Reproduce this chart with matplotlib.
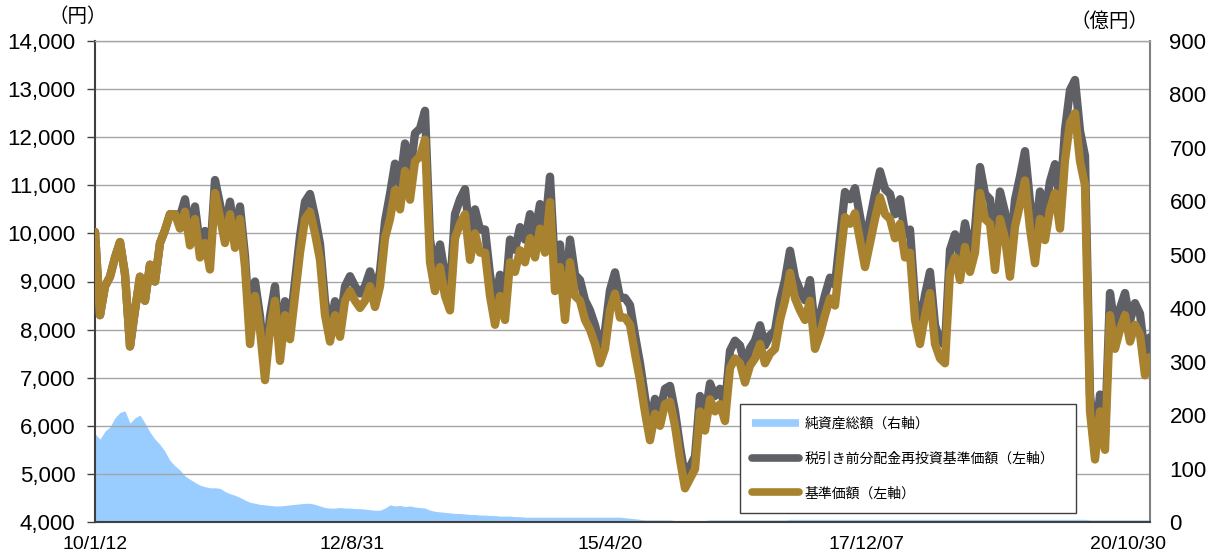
import matplotlib
matplotlib.use('Agg')
import matplotlib.pyplot as plt
import matplotlib.transforms as mtransforms
from matplotlib.lines import Line2D
from matplotlib.ticker import FuncFormatter
from matplotlib.font_manager import FontProperties
import pandas as pd

# ---------------- data ----------------
start_date = '2010-01-12'
end_date = '2020-10-30'
tick_dates = ['2010-01-12', '2012-08-31', '2015-04-20', '2017-12-07', '2020-10-30']
tick_labels = ['10/1/12', '12/8/31', '15/4/20', '17/12/07', '20/10/30']

series_labels = ['純資産総額（右軸）', '税引き前分配金再投資基準価額（左軸）', '基準価額（左軸）']

# 基準価額 (left axis, yen)
nav = [
    10030, 8300, 8900, 9100, 9500, 9820, 9150, 7650, 8400, 9100,
    8600, 9350, 9000, 9800, 10070, 10400, 10400, 10100, 10450, 9750,
    10300, 9500, 9800, 9250, 10840, 10340, 9800, 10400, 9700, 10300,
    9300, 7700, 8700, 8000, 6950, 8000, 8600, 7350, 8300, 7800,
    8700, 9600, 10300, 10450, 10000, 9450, 8300, 7750, 8300, 7850,
    8600, 8800, 8600, 8450, 8600, 8900, 8470, 8900, 9900, 10300,
    10900, 10500, 11300, 10700, 11500, 11600, 11950, 9400, 8800, 9300,
    8700, 8400, 9900, 10200, 10400, 9450, 10000, 9600, 9600, 8700,
    8100, 8700, 8200, 9400, 9200, 9650, 9400, 9900, 9500, 10100,
    9600, 10650, 8800, 9300, 8200, 9400, 8700, 8600, 8200, 8000,
    7700, 7300, 7600, 8400, 8750, 8250, 8250, 8100, 7500, 6950,
    6280, 5700, 6250, 6000, 6450, 6500, 6000, 5300, 4700, 4900,
    5100, 6300, 5900, 6550, 6300, 6450, 6100, 7200, 7400, 7300,
    6900, 7250, 7400, 7700, 7300, 7500, 7600, 8200, 8600, 9180,
    8650, 8400, 8200, 8600, 7600, 7900, 8300, 8650, 8500, 9440,
    10340, 10200, 10420, 9860, 9300, 9800, 10300, 10750, 10400, 10300,
    9900, 10200, 9500, 9600, 8200, 7700, 8300, 8760, 7700, 7400,
    7300, 9200, 9500, 9030, 9720, 9200, 9600, 10840, 10300, 10200,
    9240, 10300, 9900, 9100, 10140, 10600, 11100, 10100, 9380, 10300,
    9860, 10500, 10840, 10100, 11520, 12300, 12500, 11500, 11000, 6300,
    5300, 6300, 5500, 8300, 7600, 8000, 8300, 7750, 8100, 7900,
    7050, 7430,
]

# 税引き前分配金再投資基準価額 (left axis, yen)
nav_reinvest = [
    10030, 8300, 8900, 9100, 9500, 9820, 9150, 7650, 8400, 9100,
    8600, 9350, 9000, 9800, 10070, 10400, 10400, 10350, 10710, 9990,
    10560, 9740, 10050, 9480, 11110, 10600, 10050, 10660, 9940, 10560,
    9530, 7970, 9000, 8280, 7190, 8280, 8900, 7610, 8590, 8070,
    9000, 9940, 10660, 10820, 10350, 9780, 8590, 8020, 8590, 8120,
    8900, 9110, 8900, 8750, 8900, 9210, 8770, 9210, 10250, 10820,
    11450, 11030, 11870, 11240, 12080, 12180, 12550, 9870, 9240, 9770,
    9140, 8820, 10400, 10710, 10920, 9920, 10500, 10080, 10080, 9140,
    8510, 9140, 8610, 9870, 9660, 10130, 9870, 10400, 9980, 10610,
    10080, 11180, 9240, 9770, 8610, 9870, 9140, 9030, 8610, 8400,
    8090, 7670, 7980, 8820, 9190, 8660, 8660, 8510, 7880, 7300,
    6590, 5990, 6560, 6300, 6770, 6830, 6300, 5570, 4940, 5150,
    5360, 6620, 6200, 6880, 6620, 6770, 6410, 7560, 7770, 7670,
    7250, 7610, 7770, 8090, 7670, 7880, 7980, 8610, 9030, 9640,
    9080, 8820, 8610, 9030, 7980, 8300, 8720, 9080, 8930, 9910,
    10860, 10710, 10940, 10350, 9770, 10290, 10820, 11290, 10920, 10820,
    10400, 10710, 9980, 10080, 8610, 8090, 8720, 9200, 8090, 7770,
    7670, 9660, 9980, 9480, 10210, 9660, 10080, 11380, 10820, 10710,
    9700, 10870, 10440, 9600, 10700, 11180, 11710, 10660, 9900, 10870,
    10400, 11080, 11440, 10660, 12150, 12980, 13190, 12130, 11610, 6650,
    5590, 6650, 5800, 8760, 8020, 8440, 8760, 8180, 8550, 8330,
    7440, 7840,
]

# 純資産総額 (right axis, 億円)
net_assets = [
    165, 155, 170, 178, 195, 205, 208, 185, 195, 200,
    185, 168, 155, 145, 132, 115, 105, 97, 86, 80,
    74, 69, 66, 64, 64, 63, 57, 53, 50, 46,
    41, 37, 35, 33, 32, 31, 30, 30, 31, 32,
    33, 34, 35, 35, 33, 30, 27, 26, 26, 27,
    26, 26, 25, 25, 24, 23, 22, 22, 26, 32,
    30, 31, 29, 30, 28, 27, 26, 22, 20, 19,
    18, 17, 16, 16, 15, 14, 14, 13, 13, 12,
    12, 11, 11, 11, 10, 10, 9, 9, 9, 9,
    9, 9, 9, 9, 9, 9, 9, 9, 9, 9,
    9, 9, 9, 9, 9, 9, 8, 7, 6, 5,
    4, 4, 4, 4, 4, 4, 3, 3, 3, 3,
    3, 3, 3, 4, 4, 4, 4, 4, 4, 4,
    4, 4, 4, 4, 4, 4, 4, 4, 4, 5,
    5, 5, 5, 5, 5, 5, 5, 5, 5, 5,
    5, 5, 5, 5, 5, 5, 5, 5, 5, 5,
    5, 5, 5, 5, 5, 5, 5, 5, 5, 5,
    5, 5, 5, 5, 5, 5, 5, 5, 5, 5,
    5, 5, 5, 5, 5, 5, 5, 5, 5, 5,
    5, 5, 5, 5, 5, 5, 5, 5, 5, 4,
    4, 4, 4, 4, 4, 4, 4, 4, 4, 4,
    4, 4,
]

dates = pd.date_range(start_date, end_date, periods=len(nav))

# ---------------- style ----------------
plt.rcParams['font.family'] = ['Liberation Sans', 'Noto Sans CJK JP', 'DejaVu Sans']

C_BLUE = '#99CCFF'
C_GRAY = '#5F6065'
C_GOLD = '#A8822F'
C_GRID = '#A6A6A6'
C_AXIS = '#404040'

fig = plt.figure(figsize=(12.12, 5.6), dpi=100)
ax = fig.add_axes([95 / 1212, 1 - 522 / 560, 1055 / 1212, 481 / 560])
ax2 = ax.twinx()
ax.set_zorder(ax2.get_zorder() + 1)
ax.patch.set_visible(False)

# net assets area (right axis)
ax2.fill_between(dates, 0, net_assets, color=C_BLUE, linewidth=0)
ax2.set_ylim(0, 900)
ax2.set_yticks(range(0, 901, 100))
ax2.tick_params(axis='y', length=0, pad=14, labelsize=16, colors='black')
for s in ax2.spines.values():
    s.set_visible(False)

# price lines (left axis)
ax.plot(dates, nav_reinvest, color=C_GRAY, lw=6,
        solid_joinstyle='round', solid_capstyle='round', zorder=3)
ax.plot(dates, nav, color=C_GOLD, lw=6,
        solid_joinstyle='round', solid_capstyle='round', zorder=4)

ax.set_ylim(4000, 14000)
ax.set_yticks(range(4000, 14001, 1000))
ax.yaxis.set_major_formatter(FuncFormatter(lambda v, p: f'{int(v):,}'))
ax.grid(axis='y', color=C_GRID, lw=1)
ax.tick_params(axis='y', direction='out', length=6, width=1, color=C_AXIS,
               pad=8, labelsize=16)

ax.set_xlim(dates[0], dates[-1])
ax.set_xticks(pd.to_datetime(tick_dates))
ax.set_xticklabels(tick_labels)
ax.tick_params(axis='x', length=0, pad=10, labelsize=14)
last = ax.get_xticklabels()[-1]
last.set_transform(last.get_transform() +
                   mtransforms.ScaledTranslation(-0.22, 0, fig.dpi_scale_trans))

ax.spines['left'].set_color(C_AXIS)
ax.spines['left'].set_linewidth(1.5)
ax.spines['bottom'].set_color(C_AXIS)
ax.spines['bottom'].set_linewidth(1.5)
ax.spines['top'].set_color(C_GRID)
ax.spines['top'].set_linewidth(1)
ax.spines['right'].set_color('#7F7F7F')
ax.spines['right'].set_linewidth(1.5)

# unit labels
fig.text(78 / 1212, 1 - 17 / 560, '（円）', ha='center', va='center',
         fontsize=14, family=['Noto Sans CJK JP', 'DejaVu Sans'])
fig.text(1110 / 1212, 1 - 21 / 560, '（億円）', ha='center', va='center',
         fontsize=14, family=['Noto Sans CJK JP', 'DejaVu Sans'])

# legend
handles = [
    Line2D([], [], color=C_BLUE, lw=5.5, solid_capstyle='butt'),
    Line2D([], [], color=C_GRAY, lw=5.5, solid_capstyle='round'),
    Line2D([], [], color=C_GOLD, lw=5.5, solid_capstyle='round'),
]
leg = ax.legend(handles, series_labels, loc='lower left',
                bbox_to_anchor=(0.611, 0.019, 0.319, 0.228), mode='expand',
                borderaxespad=0, prop=FontProperties(family='Noto Sans CJK JP', size=10),
                frameon=True, fancybox=False, framealpha=1, edgecolor=C_AXIS,
                handlelength=3.4, handletextpad=0.4, labelspacing=1.5,
                borderpad=0.9)
leg.get_frame().set_linewidth(1)
leg.set_zorder(10)

fig.savefig('out.png', dpi=100)
